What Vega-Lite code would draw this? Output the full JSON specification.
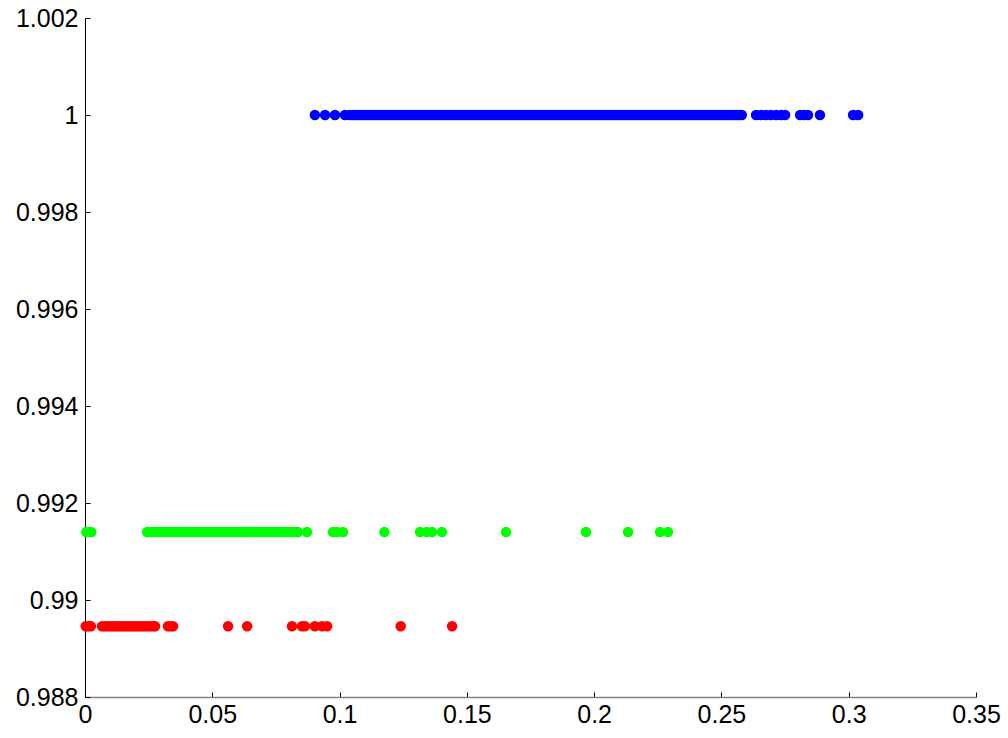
{
  "$schema": "https://vega.github.io/schema/vega-lite/v6.json",
  "width": 891,
  "height": 679,
  "autosize": {"type": "none"},
  "padding": {"left": 85, "top": 18, "right": 32, "bottom": 41},
  "background": "white",
  "config": {"view": {"stroke": null}, "font": "Liberation Sans"},
  "datasets": {
    "blue": [
      {"x":0.0903,"y":1},{"x":0.0943,"y":1},{"x":0.0982,"y":1},{"x":0.1021,"y":1},
      {"x":0.104,"y":1},{"x":0.105,"y":1},{"x":0.106,"y":1},{"x":0.107,"y":1},{"x":0.108,"y":1},{"x":0.109,"y":1},
      {"x":0.110,"y":1},{"x":0.111,"y":1},{"x":0.112,"y":1},{"x":0.113,"y":1},{"x":0.114,"y":1},{"x":0.115,"y":1},{"x":0.116,"y":1},{"x":0.117,"y":1},{"x":0.118,"y":1},{"x":0.119,"y":1},
      {"x":0.120,"y":1},{"x":0.121,"y":1},{"x":0.122,"y":1},{"x":0.123,"y":1},{"x":0.124,"y":1},{"x":0.125,"y":1},{"x":0.126,"y":1},{"x":0.127,"y":1},{"x":0.128,"y":1},{"x":0.129,"y":1},
      {"x":0.130,"y":1},{"x":0.131,"y":1},{"x":0.132,"y":1},{"x":0.133,"y":1},{"x":0.134,"y":1},{"x":0.135,"y":1},{"x":0.136,"y":1},{"x":0.137,"y":1},{"x":0.138,"y":1},{"x":0.139,"y":1},
      {"x":0.140,"y":1},{"x":0.141,"y":1},{"x":0.142,"y":1},{"x":0.143,"y":1},{"x":0.144,"y":1},{"x":0.145,"y":1},{"x":0.146,"y":1},{"x":0.147,"y":1},{"x":0.148,"y":1},{"x":0.149,"y":1},
      {"x":0.150,"y":1},{"x":0.151,"y":1},{"x":0.152,"y":1},{"x":0.153,"y":1},{"x":0.154,"y":1},{"x":0.155,"y":1},{"x":0.156,"y":1},{"x":0.157,"y":1},{"x":0.158,"y":1},{"x":0.159,"y":1},
      {"x":0.160,"y":1},{"x":0.161,"y":1},{"x":0.162,"y":1},{"x":0.163,"y":1},{"x":0.164,"y":1},{"x":0.165,"y":1},{"x":0.166,"y":1},{"x":0.167,"y":1},{"x":0.168,"y":1},{"x":0.169,"y":1},
      {"x":0.170,"y":1},{"x":0.171,"y":1},{"x":0.172,"y":1},{"x":0.173,"y":1},{"x":0.174,"y":1},{"x":0.175,"y":1},{"x":0.176,"y":1},{"x":0.177,"y":1},{"x":0.178,"y":1},{"x":0.179,"y":1},
      {"x":0.180,"y":1},{"x":0.181,"y":1},{"x":0.182,"y":1},{"x":0.183,"y":1},{"x":0.184,"y":1},{"x":0.185,"y":1},{"x":0.186,"y":1},{"x":0.187,"y":1},{"x":0.188,"y":1},{"x":0.189,"y":1},
      {"x":0.190,"y":1},{"x":0.191,"y":1},{"x":0.192,"y":1},{"x":0.193,"y":1},{"x":0.194,"y":1},{"x":0.195,"y":1},{"x":0.196,"y":1},{"x":0.197,"y":1},{"x":0.198,"y":1},{"x":0.199,"y":1},
      {"x":0.200,"y":1},{"x":0.201,"y":1},{"x":0.202,"y":1},{"x":0.203,"y":1},{"x":0.204,"y":1},{"x":0.205,"y":1},{"x":0.206,"y":1},{"x":0.207,"y":1},{"x":0.208,"y":1},{"x":0.209,"y":1},
      {"x":0.210,"y":1},{"x":0.211,"y":1},{"x":0.212,"y":1},{"x":0.213,"y":1},{"x":0.214,"y":1},{"x":0.215,"y":1},{"x":0.216,"y":1},{"x":0.217,"y":1},{"x":0.218,"y":1},{"x":0.219,"y":1},
      {"x":0.220,"y":1},{"x":0.221,"y":1},{"x":0.222,"y":1},{"x":0.223,"y":1},{"x":0.224,"y":1},{"x":0.225,"y":1},{"x":0.226,"y":1},{"x":0.227,"y":1},{"x":0.228,"y":1},{"x":0.229,"y":1},
      {"x":0.230,"y":1},{"x":0.231,"y":1},{"x":0.232,"y":1},{"x":0.233,"y":1},{"x":0.234,"y":1},{"x":0.235,"y":1},{"x":0.236,"y":1},{"x":0.237,"y":1},{"x":0.238,"y":1},{"x":0.239,"y":1},
      {"x":0.240,"y":1},{"x":0.241,"y":1},{"x":0.242,"y":1},{"x":0.243,"y":1},{"x":0.244,"y":1},{"x":0.245,"y":1},{"x":0.246,"y":1},{"x":0.247,"y":1},{"x":0.248,"y":1},{"x":0.249,"y":1},
      {"x":0.250,"y":1},{"x":0.251,"y":1},{"x":0.252,"y":1},{"x":0.253,"y":1},{"x":0.254,"y":1},{"x":0.255,"y":1},{"x":0.256,"y":1},{"x":0.257,"y":1},{"x":0.258,"y":1},
      {"x":0.2636,"y":1},{"x":0.2655,"y":1},{"x":0.2675,"y":1},{"x":0.2695,"y":1},{"x":0.2715,"y":1},{"x":0.2735,"y":1},{"x":0.275,"y":1},
      {"x":0.2809,"y":1},{"x":0.2825,"y":1},{"x":0.284,"y":1},{"x":0.2887,"y":1},{"x":0.3017,"y":1},{"x":0.3037,"y":1}
    ],
    "green": [
      {"x":0.0005,"y":0.9914},{"x":0.0015,"y":0.9914},{"x":0.0025,"y":0.9914},
      {"x":0.0244,"y":0.9914},{"x":0.025,"y":0.9914},{"x":0.026,"y":0.9914},{"x":0.027,"y":0.9914},{"x":0.028,"y":0.9914},{"x":0.029,"y":0.9914},
      {"x":0.030,"y":0.9914},{"x":0.031,"y":0.9914},{"x":0.032,"y":0.9914},{"x":0.033,"y":0.9914},{"x":0.034,"y":0.9914},{"x":0.035,"y":0.9914},{"x":0.036,"y":0.9914},{"x":0.037,"y":0.9914},{"x":0.038,"y":0.9914},{"x":0.039,"y":0.9914},
      {"x":0.040,"y":0.9914},{"x":0.041,"y":0.9914},{"x":0.042,"y":0.9914},{"x":0.043,"y":0.9914},{"x":0.044,"y":0.9914},{"x":0.045,"y":0.9914},{"x":0.046,"y":0.9914},{"x":0.047,"y":0.9914},{"x":0.048,"y":0.9914},{"x":0.049,"y":0.9914},
      {"x":0.050,"y":0.9914},{"x":0.051,"y":0.9914},{"x":0.052,"y":0.9914},{"x":0.053,"y":0.9914},{"x":0.054,"y":0.9914},{"x":0.055,"y":0.9914},{"x":0.056,"y":0.9914},{"x":0.057,"y":0.9914},{"x":0.058,"y":0.9914},{"x":0.059,"y":0.9914},
      {"x":0.060,"y":0.9914},{"x":0.061,"y":0.9914},{"x":0.062,"y":0.9914},{"x":0.063,"y":0.9914},{"x":0.064,"y":0.9914},{"x":0.065,"y":0.9914},{"x":0.066,"y":0.9914},{"x":0.067,"y":0.9914},{"x":0.068,"y":0.9914},{"x":0.069,"y":0.9914},
      {"x":0.070,"y":0.9914},{"x":0.071,"y":0.9914},{"x":0.072,"y":0.9914},{"x":0.073,"y":0.9914},{"x":0.074,"y":0.9914},{"x":0.075,"y":0.9914},{"x":0.076,"y":0.9914},{"x":0.077,"y":0.9914},{"x":0.078,"y":0.9914},{"x":0.079,"y":0.9914},
      {"x":0.080,"y":0.9914},{"x":0.081,"y":0.9914},{"x":0.082,"y":0.9914},{"x":0.083,"y":0.9914},{"x":0.0837,"y":0.9914},
      {"x":0.0872,"y":0.9914},{"x":0.0974,"y":0.9914},{"x":0.099,"y":0.9914},{"x":0.1013,"y":0.9914},{"x":0.1176,"y":0.9914},
      {"x":0.1316,"y":0.9914},{"x":0.1343,"y":0.9914},{"x":0.1363,"y":0.9914},{"x":0.1402,"y":0.9914},{"x":0.1654,"y":0.9914},
      {"x":0.1968,"y":0.9914},{"x":0.2133,"y":0.9914},{"x":0.2259,"y":0.9914},{"x":0.229,"y":0.9914}
    ],
    "red": [
      {"x":0.0003,"y":0.98946},{"x":0.0013,"y":0.98946},{"x":0.0023,"y":0.98946},
      {"x":0.0067,"y":0.98946},{"x":0.0077,"y":0.98946},{"x":0.0087,"y":0.98946},{"x":0.0097,"y":0.98946},{"x":0.0107,"y":0.98946},{"x":0.0117,"y":0.98946},{"x":0.0127,"y":0.98946},{"x":0.0137,"y":0.98946},{"x":0.0147,"y":0.98946},{"x":0.0157,"y":0.98946},
      {"x":0.0167,"y":0.98946},{"x":0.0177,"y":0.98946},{"x":0.0187,"y":0.98946},{"x":0.0197,"y":0.98946},{"x":0.0207,"y":0.98946},{"x":0.0217,"y":0.98946},{"x":0.0227,"y":0.98946},{"x":0.0237,"y":0.98946},{"x":0.0247,"y":0.98946},{"x":0.0257,"y":0.98946},{"x":0.0267,"y":0.98946},{"x":0.0275,"y":0.98946},
      {"x":0.0326,"y":0.98946},{"x":0.0336,"y":0.98946},{"x":0.0346,"y":0.98946},{"x":0.0562,"y":0.98946},{"x":0.0637,"y":0.98946},
      {"x":0.0813,"y":0.98946},{"x":0.0852,"y":0.98946},{"x":0.0864,"y":0.98946},{"x":0.0903,"y":0.98946},{"x":0.0931,"y":0.98946},{"x":0.0951,"y":0.98946},
      {"x":0.124,"y":0.98946},{"x":0.1442,"y":0.98946}
    ]
  },
  "layer": [
    {
      "data": {"name": "blue"},
      "mark": {"type": "circle", "size": 110, "color": "#0000ff", "opacity": 1},
      "encoding": {
        "x": {"field": "x", "type": "quantitative", "scale": {"domain": [0, 0.35], "nice": false, "zero": false},
          "axis": {"title": null, "values": [0,0.05,0.1,0.15,0.2,0.25,0.3,0.35], "format": "~g", "grid": false, "domainColor": "#808080", "domainWidth": 1.5, "tickColor": "#000000", "tickSize": -5, "labelPadding": 10, "labelFontSize": 25, "labelColor": "#000000", "labelFont": "Liberation Sans", "labelFlush": false}},
        "y": {"field": "y", "type": "quantitative", "scale": {"domain": [0.988, 1.002], "nice": false, "zero": false},
          "axis": {"title": null, "values": [0.988,0.99,0.992,0.994,0.996,0.998,1,1.002], "format": "~g", "grid": false, "domainColor": "#000000", "domainWidth": 1, "tickColor": "#000000", "tickSize": -5, "labelPadding": 12, "labelFontSize": 25, "labelColor": "#000000", "labelFont": "Liberation Sans", "labelFlush": false}}
      }
    },
    {
      "data": {"name": "green"},
      "mark": {"type": "circle", "size": 110, "color": "#00ff00", "opacity": 1},
      "encoding": {
        "x": {"field": "x", "type": "quantitative"},
        "y": {"field": "y", "type": "quantitative"}
      }
    },
    {
      "data": {"name": "red"},
      "mark": {"type": "circle", "size": 110, "color": "#ff0000", "opacity": 1},
      "encoding": {
        "x": {"field": "x", "type": "quantitative"},
        "y": {"field": "y", "type": "quantitative"}
      }
    }
  ]
}
